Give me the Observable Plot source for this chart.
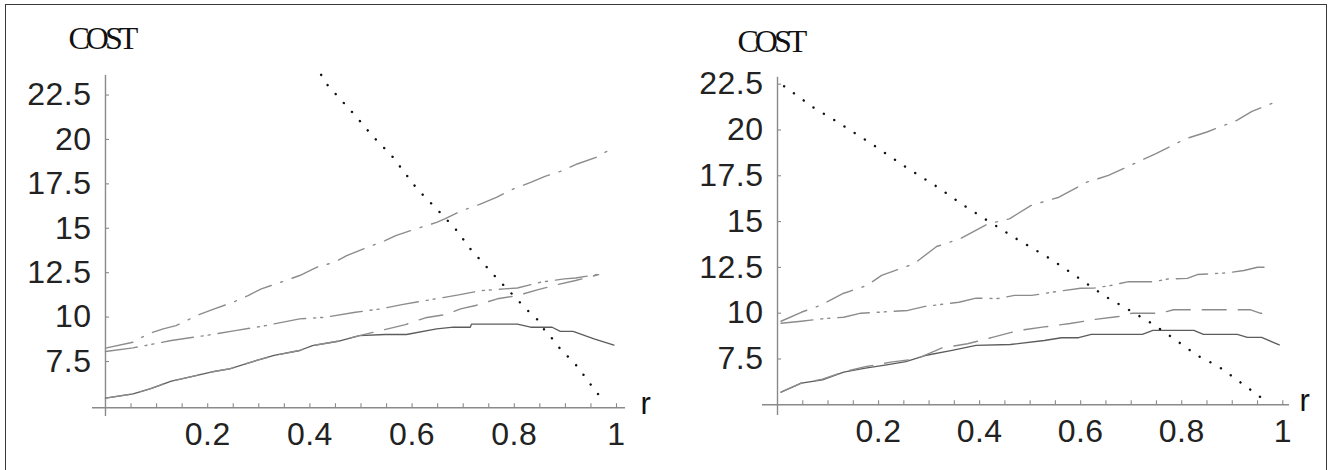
<!DOCTYPE html>
<html><head><meta charset="utf-8">
<script src="https://cdn.jsdelivr.net/npm/d3@7"></script>
<script src="https://cdn.jsdelivr.net/npm/@observablehq/plot@0.6"></script>
<style>
body{margin:0;background:#fff;}
#wrap{position:relative;width:1329px;height:470px;overflow:hidden;background:#fff;}
#frame{position:absolute;left:5px;top:4px;width:1322px;height:480px;border:1.5px solid #3a3a3a;box-sizing:border-box;}
#left{position:absolute;left:0;top:0;}
#right{position:absolute;left:664px;top:0;}
</style></head><body>
<div id="wrap"><div id="frame"></div><div id="left"></div><div id="right"></div></div>
<script>
// ---- tick values and labels ----
const xTicks = [0.2, 0.4, 0.6, 0.8, 1];
const xTickLabels = ["0.2", "0.4", "0.6", "0.8", "1"];
const xMinorTicks = [0.05,0.1,0.15,0.2,0.25,0.3,0.35,0.4,0.45,0.5,0.55,0.6,0.65,0.7,0.75,0.8,0.85,0.9,0.95,1];
const yTicks = [7.5, 10, 12.5, 15, 17.5, 20, 22.5];
const yTickLabels = ["7.5", "10", "12.5", "15", "17.5", "20", "22.5"];
const yTitle = "COST";
const xTitle = "r";

// ---- left panel series ----
const leftSolidR    = [0, 0.054, 0.087, 0.129, 0.164, 0.213, 0.243, 0.296, 0.33, 0.38, 0.405, 0.455, 0.497, 0.547, 0.589, 0.648, 0.681, 0.714, 0.716, 0.806, 0.832, 0.874, 0.89, 0.915, 0.956, 0.995];
const leftSolidCost = [5.44, 5.68, 5.96, 6.39, 6.62, 6.94, 7.09, 7.56, 7.84, 8.12, 8.4, 8.64, 8.96, 9.02, 9.02, 9.34, 9.43, 9.43, 9.6, 9.6, 9.43, 9.43, 9.2, 9.2, 8.78, 8.42];
const leftDashR     = [0, 0.054, 0.087, 0.129, 0.164, 0.213, 0.243, 0.296, 0.33, 0.38, 0.405, 0.455, 0.497, 0.538, 0.587, 0.626, 0.665, 0.695, 0.724, 0.767, 0.806, 0.845, 0.884, 0.92, 0.965];
const leftDashCost  = [5.44, 5.68, 5.96, 6.39, 6.62, 6.94, 7.09, 7.56, 7.84, 8.12, 8.4, 8.64, 8.96, 9.24, 9.58, 9.96, 10.14, 10.46, 10.65, 11.03, 11.21, 11.53, 11.83, 12.06, 12.39];
const leftDDDR      = [0, 0.054, 0.129, 0.204, 0.254, 0.313, 0.38, 0.43, 0.489, 0.538, 0.58, 0.626, 0.691, 0.734, 0.781, 0.806, 0.851, 0.898, 0.92, 0.965];
const leftDDDCost   = [8.06, 8.27, 8.68, 9.0, 9.24, 9.52, 9.9, 9.99, 10.27, 10.46, 10.7, 10.93, 11.25, 11.49, 11.59, 11.64, 11.96, 12.15, 12.2, 12.41];
const leftDDR       = [0, 0.054, 0.084, 0.113, 0.138, 0.179, 0.213, 0.25, 0.279, 0.305, 0.347, 0.38, 0.413, 0.447, 0.472, 0.505, 0.547, 0.568, 0.597, 0.648, 0.664, 0.698, 0.731, 0.765, 0.798, 0.832, 0.86, 0.89, 0.923, 0.96, 0.981, 0.994];
const leftDDCost    = [8.25, 8.59, 9.06, 9.34, 9.52, 10.09, 10.46, 10.84, 11.21, 11.59, 12.0, 12.34, 12.8, 13.08, 13.46, 13.84, 14.3, 14.59, 14.87, 15.33, 15.53, 16.0, 16.33, 16.74, 17.21, 17.58, 17.92, 18.2, 18.62, 18.99, 19.33, 19.33];
const leftDotR      = [0.422, 0.434, 0.489, 0.522, 0.56, 0.61, 0.648, 0.685, 0.714, 0.765, 0.786, 0.823, 0.844, 0.86, 0.873, 0.894, 0.915, 0.944, 0.96, 0.98];
const leftDotCost   = [23.64, 23.08, 21.34, 20.21, 19.09, 17.21, 16.09, 14.96, 13.84, 12.21, 11.59, 10.46, 9.9, 9.24, 8.83, 8.06, 7.52, 6.43, 5.77, 5.25];

// ---- right panel series ----
const rightSolidR    = [0.007, 0.047, 0.089, 0.131, 0.174, 0.216, 0.254, 0.292, 0.343, 0.393, 0.461, 0.528, 0.562, 0.596, 0.621, 0.722, 0.743, 0.824, 0.843, 0.91, 0.93, 0.958, 0.993];
const rightSolidCost = [5.69, 6.18, 6.36, 6.78, 7.0, 7.18, 7.36, 7.69, 7.96, 8.24, 8.29, 8.51, 8.66, 8.66, 8.84, 8.84, 9.06, 9.06, 8.84, 8.84, 8.68, 8.68, 8.27];
const rightDashR     = [0.007, 0.047, 0.089, 0.131, 0.174, 0.224, 0.275, 0.326, 0.376, 0.427, 0.478, 0.528, 0.579, 0.629, 0.675, 0.702, 0.758, 0.784, 0.91, 0.935, 0.955, 0.98];
const rightDashCost  = [5.69, 6.18, 6.4, 6.8, 7.08, 7.33, 7.51, 8.11, 8.33, 8.69, 9.06, 9.25, 9.44, 9.66, 9.82, 10.0, 10.0, 10.19, 10.19, 10.19, 10.0, 10.0];
const rightDDDR      = [0.007, 0.047, 0.087, 0.131, 0.165, 0.199, 0.258, 0.292, 0.318, 0.359, 0.393, 0.436, 0.469, 0.503, 0.545, 0.6, 0.626, 0.659, 0.695, 0.745, 0.773, 0.811, 0.831, 0.89, 0.923, 0.95, 0.975];
const rightDDDCost   = [9.45, 9.56, 9.69, 9.78, 10.0, 10.05, 10.15, 10.37, 10.46, 10.6, 10.82, 10.8, 10.97, 10.97, 11.15, 11.36, 11.37, 11.51, 11.72, 11.72, 11.87, 11.9, 12.11, 12.2, 12.33, 12.51, 12.51];
const rightDDR       = [0.007, 0.047, 0.084, 0.131, 0.177, 0.206, 0.27, 0.315, 0.361, 0.417, 0.459, 0.502, 0.557, 0.612, 0.655, 0.706, 0.748, 0.808, 0.85, 0.909, 0.939, 0.993];
const rightDDCost    = [9.56, 10.05, 10.42, 11.09, 11.51, 12.06, 12.7, 13.64, 14.06, 14.88, 15.15, 15.88, 16.33, 17.15, 17.52, 18.16, 18.7, 19.52, 19.89, 20.52, 21.01, 21.61];
const rightDotR      = [0.013, 0.072, 0.119, 0.186, 0.254, 0.317, 0.364, 0.41, 0.473, 0.541, 0.586, 0.649, 0.695, 0.742, 0.783, 0.831, 0.873, 0.92, 0.96];
const rightDotCost   = [22.39, 21.21, 20.43, 19.25, 17.97, 16.88, 15.97, 15.15, 14.06, 12.95, 12.11, 10.91, 10.19, 9.42, 8.64, 7.69, 7.09, 6.15, 5.33];

const zipRC = (R, C) => R.map((r, i) => ({r, cost: C[i]}));

const tickFont = "'Liberation Sans', Arimo, sans-serif";
const axisColor = "#8a8a8a";
const lineStyles = {
  solid: {stroke: "#5c5c5c", strokeWidth: 1.3},
  dash:  {stroke: "#8c8c8c", strokeWidth: 1.4, strokeDasharray: "24,12"},
  ddd:   {stroke: "#8c8c8c", strokeWidth: 1.4, strokeDasharray: "32,8,2,5,2,8"},
  dd:    {stroke: "#8c8c8c", strokeWidth: 1.4, strokeDasharray: "28,10,2,10"},
  dot:   {stroke: "#111", strokeWidth: 2.4, strokeDasharray: "0.1,12", strokeLinecap: "round"}
};

function panel(cfg) {
  const series = [
    [zipRC(cfg.solid[0], cfg.solid[1]), lineStyles.solid],
    [zipRC(cfg.dash[0], cfg.dash[1]), lineStyles.dash],
    [zipRC(cfg.ddd[0], cfg.ddd[1]), lineStyles.ddd],
    [zipRC(cfg.dd[0], cfg.dd[1]), lineStyles.dd],
    [zipRC(cfg.dot[0], cfg.dot[1]), lineStyles.dot]
  ];
  const svg = Plot.plot({
    width: 665, height: 470,
    marginLeft: cfg.ml, marginRight: cfg.mr, marginTop: cfg.mt, marginBottom: cfg.mb,
    style: {background: "transparent", overflow: "visible"},
    x: {domain: cfg.xDomain, axis: null},
    y: {domain: cfg.yDomain, axis: null},
    marks: [
      Plot.ruleY([cfg.yDomain[0]], {stroke: axisColor, strokeWidth: 1.4}),
      Plot.ruleX([0], {y1: cfg.yAxisBottom, y2: cfg.yDomain[1], stroke: axisColor, strokeWidth: 1.4}),
      Plot.ruleX(xMinorTicks, {x: d => d, y1: cfg.yDomain[0], y2: cfg.yDomain[0], insetTop: -4, stroke: axisColor, strokeWidth: 1.1}),
      Plot.ruleY(yTicks, {y: d => d, x1: 0, x2: 0, insetRight: -4, stroke: axisColor, strokeWidth: 1.1}),
      ...series.map(([data, st]) => Plot.line(data, {x: "r", y: "cost", ...st})),
      Plot.text(yTicks, {x: 0, y: d => d, text: (d, i) => yTickLabels[i], dx: -14, textAnchor: "end",
        fontSize: 32, fontFamily: tickFont, fill: "#222"}),
      Plot.text(xTicks, {x: d => d, y: cfg.yDomain[0], text: (d, i) => xTickLabels[i], dy: 27,
        fontSize: 32, fontFamily: tickFont, fill: "#222"}),
      Plot.text([yTitle], {frameAnchor: "top-left", text: d => d, dx: cfg.costDx, dy: cfg.costDy, textAnchor: "start",
        lineAnchor: "bottom", fontSize: 32, fontFamily: "'Liberation Serif', serif", fill: "#111"}),
      Plot.text([xTitle], {frameAnchor: "bottom-right", text: d => d, dx: cfg.rDx, dy: 6, textAnchor: "start",
        lineAnchor: "bottom", fontSize: 31, fontFamily: "'Liberation Sans', sans-serif", fill: "#111"})
    ]
  });
  d3.select(svg).selectAll("text").each(function () {
    const t = this.textContent;
    if (t === yTitle) d3.select(this).attr("letter-spacing", -4);
    else if (t !== xTitle) d3.select(this).attr("letter-spacing", 0.5);
  });
  return svg;
}

document.getElementById("left").appendChild(panel({
  ml: 92, mr: 40, mt: 75, mb: 62.8,
  xDomain: [-0.0254, 1.0176], yDomain: [4.9, 23.6], yAxisBottom: 4.41,
  costDx: -24, costDy: -27, rDx: 15,
  solid: [leftSolidR, leftSolidCost], dash: [leftDashR, leftDashCost],
  ddd: [leftDDDR, leftDDDCost], dd: [leftDDR, leftDDCost], dot: [leftDotR, leftDotCost]
}));
document.getElementById("right").appendChild(panel({
  ml: 98, mr: 40, mt: 76.7, mb: 65.7,
  xDomain: [-0.0297, 1.0133], yDomain: [5.0, 22.88], yAxisBottom: 4.42,
  costDx: -25, costDy: -25, rDx: 10,
  solid: [rightSolidR, rightSolidCost], dash: [rightDashR, rightDashCost],
  ddd: [rightDDDR, rightDDDCost], dd: [rightDDR, rightDDCost], dot: [rightDotR, rightDotCost]
}));
</script>
</body></html>
